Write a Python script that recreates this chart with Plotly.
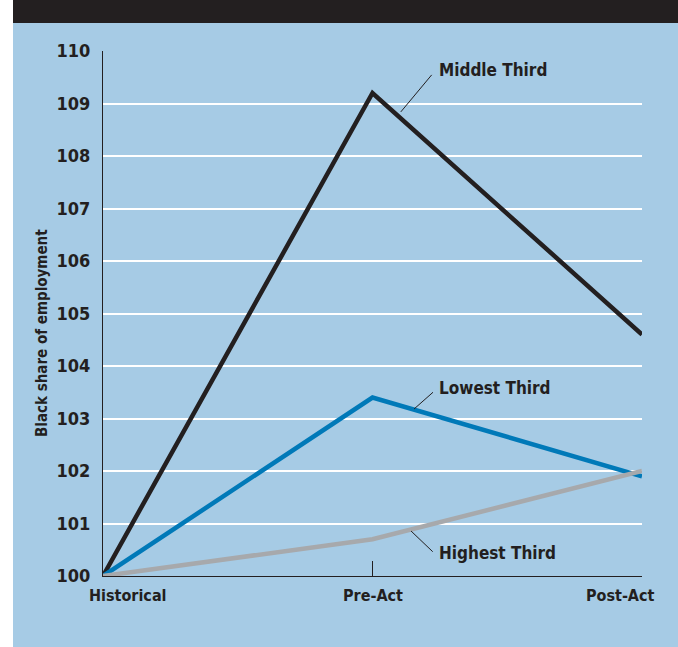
import plotly.graph_objects as go

# Periods along the x-axis
periods = ["Historical", "Pre-Act", "Post-Act"]

# Black share of employment, indexed to 100 in the historical period
middle_third = [100.0, 109.2, 104.6]
lowest_third = [100.0, 103.4, 101.9]
highest_third = [100.0, 100.7, 102.0]

y_ticks = list(range(100, 111))

BG = "#a6cbe5"
INK = "#231f20"
BLUE = "#0079b8"
GREY = "#a7a9ac"
FONT = "Liberation Sans Narrow, DejaVu Sans Condensed, sans-serif"

xs = list(range(len(periods)))

fig = go.Figure()
for vals, color in [(middle_third, INK), (lowest_third, BLUE), (highest_third, GREY)]:
    fig.add_trace(go.Scatter(
        x=xs, y=vals, mode="lines",
        line=dict(color=color, width=4.5),
        cliponaxis=False, hoverinfo="skip", showlegend=False,
    ))

# Panel background, white strip at the left and dark header band
W, H = 678, 647
ml, mr, mt, mb = 103, 36, 51, 71
pw, ph = W - ml - mr, H - mt - mb


def px_x(p):
    return (p - ml) / pw


def px_y(p):
    return (H - mb - p) / ph


shapes = [
    dict(type="rect", xref="paper", yref="paper", layer="below",
         x0=px_x(0), x1=px_x(13), y0=px_y(H), y1=px_y(0),
         fillcolor="white", line=dict(width=0)),
    dict(type="rect", xref="paper", yref="paper", layer="below",
         x0=px_x(13), x1=px_x(W), y0=px_y(23), y1=px_y(0),
         fillcolor=INK, line=dict(width=0)),
]

# Leader lines from series labels to their lines
leaders = [
    (1.105, 108.84, 1.2196, 109.545),
    (1.154, 103.18, 1.2245, 103.50),
    (1.143, 100.857, 1.2234, 100.463),
]
for x0, y0, x1, y1 in leaders:
    shapes.append(dict(type="line", xref="x", yref="y", x0=x0, y0=y0, x1=x1, y1=y1,
                       line=dict(color=INK, width=1)))

annotations = []
labels = [("Middle Third", 109.64), ("Lowest Third", 103.58), ("Highest Third", 100.44)]
for text, y in labels:
    annotations.append(dict(x=1.25, y=y, xref="x", yref="y", text=text,
                            showarrow=False, xanchor="left", yanchor="middle",
                            xshift=-3,
                            font=dict(family=FONT, size=17, color=INK, weight="bold")))

# Period labels under the axis
for i, (name, anchor, shift) in enumerate(zip(periods, ["left", "center", "right"], [-16, 0, 15])):
    annotations.append(dict(x=i, y=0, xref="x", yref="paper", text=name,
                            showarrow=False, xanchor=anchor, yanchor="top",
                            xshift=shift, yshift=-8,
                            font=dict(family=FONT, size=16, color=INK, weight="bold")))

# Y-axis title
annotations.append(dict(x=px_x(42), y=px_y(333), xref="paper", yref="paper",
                        text="Black share of employment", textangle=-90,
                        showarrow=False, xanchor="center", yanchor="middle",
                        font=dict(family=FONT, size=15, color=INK, weight="bold")))

fig.update_layout(
    width=W, height=H,
    margin=dict(l=ml, r=mr, t=mt, b=mb),
    paper_bgcolor=BG, plot_bgcolor=BG,
    shapes=shapes, annotations=annotations,
    xaxis=dict(range=[0, 2], tickvals=xs, showticklabels=False,
               ticks="inside", ticklen=15, tickwidth=1, tickcolor=INK,
               showline=True, linecolor=INK, linewidth=1,
               showgrid=False, zeroline=False, fixedrange=True),
    yaxis=dict(range=[100, 110], tickvals=y_ticks, ticks="",
               showline=True, linecolor=INK, linewidth=1,
               showgrid=True, gridcolor="white", gridwidth=2,
               zeroline=False, ticklabelstandoff=8,
               tickfont=dict(family=FONT, size=18, color=INK, weight="bold"),
               fixedrange=True),
)

fig.write_html("out.html", config={"displayModeBar": False})
